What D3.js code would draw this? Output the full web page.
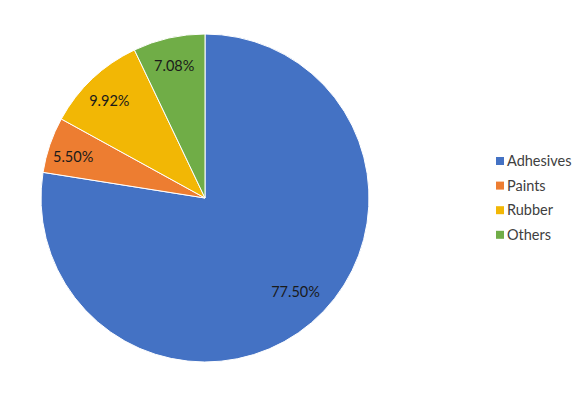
<!DOCTYPE html>
<html>
<head>
<meta charset="utf-8">
<script src="https://cdn.jsdelivr.net/npm/d3@7"></script>
<style>
  body { margin: 0; background: #fff; }
  text { font-family: Lato, "Open Sans", sans-serif; }
</style>
</head>
<body>
<div id="chart"></div>
<script>
const categories = ["Adhesives", "Paints", "Rubber", "Others"];
const shares = [77.50, 5.50, 9.92, 7.08];
const colors = ["#4472C4", "#ED7D31", "#F2B705", "#70AD47"];

const width = 582, height = 398;
const cx = 205, cy = 198, radius = 164;

const svg = d3.select("#chart")
  .append("svg")
  .attr("width", width)
  .attr("height", height);

const data = categories.map((c, i) => ({ name: c, value: shares[i], color: colors[i] }));

const pie = d3.pie()
  .sort(null)
  .value(d => d.value)
  .startAngle(0)
  .endAngle(2 * Math.PI);

const arc = d3.arc().innerRadius(0).outerRadius(radius);
const labelArc = d3.arc().innerRadius(radius * 0.85).outerRadius(radius * 0.85);

const g = svg.append("g").attr("transform", `translate(${cx}, ${cy})`);

const arcs = pie(data);

g.selectAll("path")
  .data(arcs)
  .join("path")
  .attr("d", arc)
  .attr("fill", d => d.data.color)
  .attr("stroke", "#fff")
  .attr("stroke-width", 1);

g.selectAll("text")
  .data(arcs)
  .join("text")
  .attr("transform", d => {
    const [x, y] = labelArc.centroid(d);
    // big slice label is pulled up a little, like the spreadsheet's placement
    const dy = d.data.value > 50 ? -12 : 4;
    return `translate(${x}, ${y + dy})`;
  })
  .attr("text-anchor", "middle")
  .attr("dy", "0.35em")
  .attr("font-size", 14.5)
  .attr("fill", "#1a1a1a")
  .text(d => d3.format(".2f")(d.data.value) + "%");

const legend = svg.append("g")
  .attr("transform", "translate(496, 161)");

const item = legend.selectAll("g")
  .data(data)
  .join("g")
  .attr("transform", (d, i) => `translate(0, ${i * 24.6})`);

item.append("rect")
  .attr("x", 0)
  .attr("y", -4)
  .attr("width", 8)
  .attr("height", 8)
  .attr("fill", d => d.color);

item.append("text")
  .attr("x", 11)
  .attr("dy", "0.35em")
  .attr("font-size", 14.5)
  .attr("fill", "#404040")
  .text(d => d.name);
</script>
</body>
</html>
